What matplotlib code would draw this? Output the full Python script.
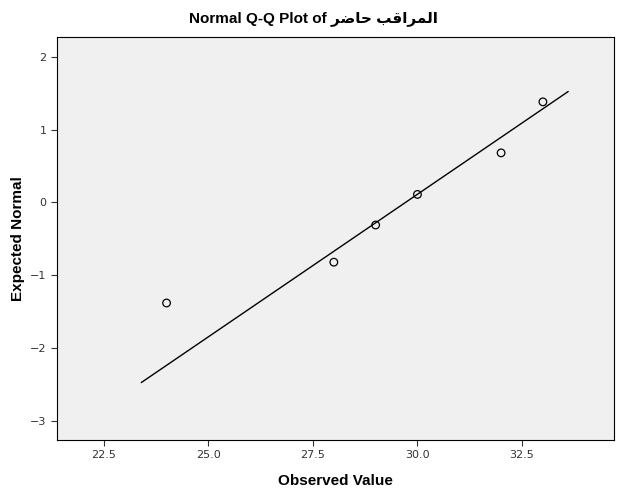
import matplotlib
matplotlib.use("Agg")
import matplotlib.pyplot as plt

observed = [24, 28, 29, 30, 32, 33]
expected = [-1.38, -0.82, -0.31, 0.11, 0.68, 1.38]
line_x = [23.4, 33.6]
line_y = [-2.47, 1.52]
xticks = [22.5, 25.0, 27.5, 30.0, 32.5]
yticks = [-3, -2, -1, 0, 1, 2]

arabic = "\uFEAE\uFEBF\uFE8E\uFEA3 \uFE90\uFED7\uFE8D\uFEAE\uFEE4\uFEDF\uFE8D"

fig = plt.figure(figsize=(6.26, 5.01), dpi=100)
ax = fig.add_axes([57/626, 1-440/501, (614-57)/626, (440-37)/501])
ax.set_facecolor("#f0f0f0")
ax.plot(line_x, line_y, color="black", lw=1)
ax.scatter(observed, expected, s=30, facecolors="none", edgecolors="black", linewidths=0.9, zorder=3)
ax.set_xlim(21.38, 34.7)
ax.set_ylim(-3.26, 2.27)
ax.set_xticks(xticks)
ax.set_xticklabels([f"{v:.1f}" for v in xticks])
ax.set_yticks(yticks)
ax.tick_params(labelsize=8, length=4, colors="#333333")
for s in ax.spines.values():
    s.set_color("black")
ax.set_xlabel("Observed Value", fontsize=11, fontweight="bold", family=["Liberation Sans", "DejaVu Sans"], labelpad=10)
ax.set_ylabel("Expected Normal", fontsize=11, fontweight="bold", family=["Liberation Sans", "DejaVu Sans"])
fig.text(0.5, 1-19/501, "Normal Q-Q Plot of " + arabic, ha="center", va="center",
         fontsize=11, fontweight="bold", family=["Liberation Sans", "DejaVu Sans"])
fig.savefig("out.png", dpi=100)
